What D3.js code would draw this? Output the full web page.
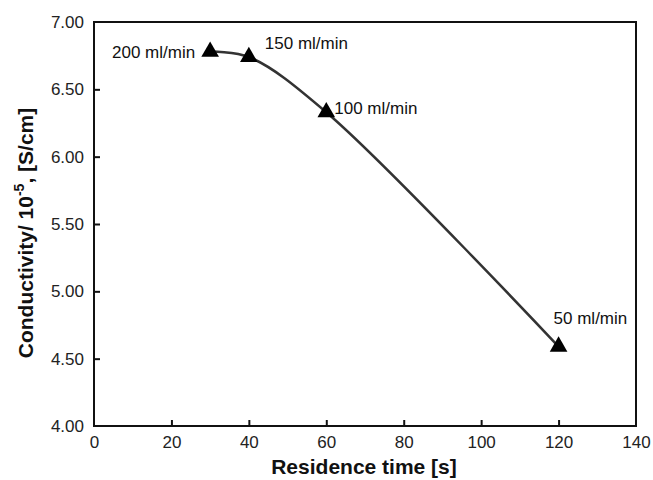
<!DOCTYPE html>
<html>
<head>
<meta charset="utf-8">
<script src="https://cdn.jsdelivr.net/npm/d3@7"></script>
<style>
body { margin: 0; background: white; }
text { font-family: "Liberation Sans", Arial, sans-serif; }
</style>
</head>
<body>
<div id="chart"></div>
<script>
var residenceTime = [30, 40, 60, 120];
var conductivity = [6.78, 6.74, 6.33, 4.59];
var flowLabels = ["200 ml/min", "150 ml/min", "100 ml/min", "50 ml/min"];
var xTicks = [0, 20, 40, 60, 80, 100, 120, 140];
var yTicks = [4.0, 4.5, 5.0, 5.5, 6.0, 6.5, 7.0];

var width = 653, height = 480;
var margin = {top: 22, right: 17, bottom: 54, left: 94};

var svg = d3.select('#chart').append('svg')
    .attr('width', width)
    .attr('height', height);

var x = d3.scaleLinear().domain([0, 140]).range([margin.left, width - margin.right]);
var y = d3.scaleLinear().domain([4, 7]).range([height - margin.bottom, margin.top]);

// frame
svg.append('rect')
    .attr('x', x(0)).attr('y', y(7))
    .attr('width', x(140) - x(0)).attr('height', y(4) - y(7))
    .attr('fill', 'none').attr('stroke', '#111').attr('stroke-width', 2);

// axes, ticks inside
var xAxis = svg.append('g')
    .attr('transform', 'translate(0,' + y(4) + ')')
    .call(d3.axisBottom(x).tickValues(xTicks).tickSizeInner(-6).tickSizeOuter(0).tickPadding(10));
var yAxis = svg.append('g')
    .attr('transform', 'translate(' + x(0) + ',0)')
    .call(d3.axisLeft(y).tickValues(yTicks).tickFormat(d3.format('.2f')).tickSizeInner(-6).tickSizeOuter(0).tickPadding(10));

[xAxis, yAxis].forEach(function (a) {
  a.select('.domain').remove();
  a.selectAll('line').attr('stroke', '#111').attr('stroke-width', 2);
  a.selectAll('text').attr('font-size', 17).attr('fill', '#222')
    .style('font-family', '"Liberation Sans", Arial, sans-serif');
});
xAxis.selectAll('line').filter(function (d) { return d === 0 || d === 140; }).remove();
yAxis.selectAll('line').filter(function (d) { return d === 4 || d === 7; }).remove();

var pts = residenceTime.map(function (t, i) { return [t, conductivity[i]]; });

var line = d3.line()
    .x(function (d) { return x(d[0]); })
    .y(function (d) { return y(d[1]); })
    .curve(d3.curveCatmullRom.alpha(0.5));

svg.append('path')
    .datum(pts)
    .attr('d', line)
    .attr('fill', 'none')
    .attr('stroke', '#333')
    .attr('stroke-width', 2.5);

svg.selectAll('.pt')
    .data(pts)
    .enter().append('path')
    .attr('class', 'pt')
    .attr('transform', function (d) { return 'translate(' + x(d[0]) + ',' + y(d[1]) + ')'; })
    .attr('d', d3.symbol().type(d3.symbolTriangle).size(135))
    .attr('fill', '#000');

// point labels
var labelOffsets = [[-15, 6, 'end'], [16, -8, 'start'], [8, 2, 'start'], [-5, -23, 'start']];
svg.selectAll('.lbl')
    .data(pts)
    .enter().append('text')
    .attr('class', 'lbl')
    .attr('x', function (d, i) { return x(d[0]) + labelOffsets[i][0]; })
    .attr('y', function (d, i) { return y(d[1]) + labelOffsets[i][1]; })
    .attr('text-anchor', function (d, i) { return labelOffsets[i][2]; })
    .attr('font-size', 17)
    .attr('fill', '#111')
    .text(function (d, i) { return flowLabels[i]; });

// axis titles
svg.append('text')
    .attr('x', 364)
    .attr('y', 474)
    .attr('text-anchor', 'middle')
    .attr('font-size', 21)
    .attr('font-weight', 'bold')
    .attr('fill', '#111')
    .text('Residence time [s]');

var yt = svg.append('text')
    .attr('transform', 'translate(33,233) rotate(-90)')
    .attr('text-anchor', 'middle')
    .attr('font-size', 21)
    .attr('font-weight', 'bold')
    .attr('fill', '#111');
yt.append('tspan').text('Conductivity/ 10');
yt.append('tspan').attr('dy', -9).attr('font-size', 14).text('-5');
yt.append('tspan').attr('dy', 9).text(', [S/cm]');
</script>
</body>
</html>
